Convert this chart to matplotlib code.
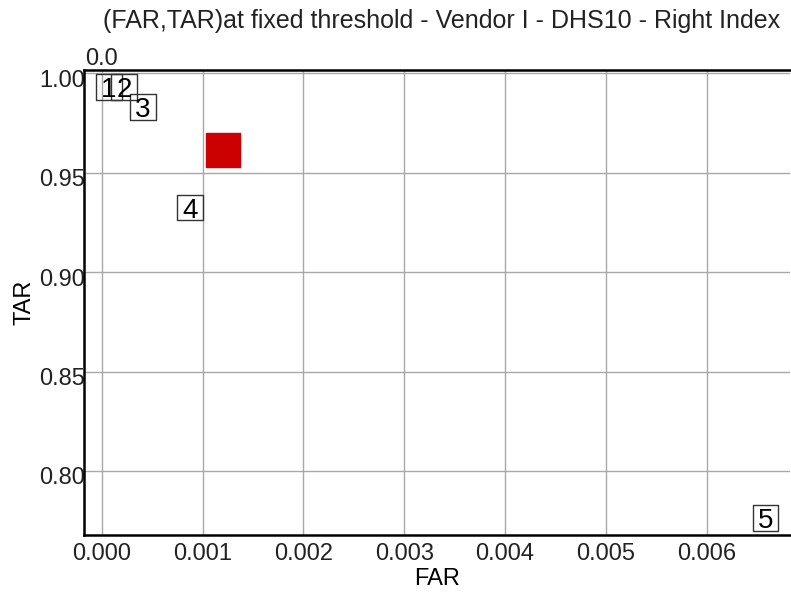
import matplotlib
matplotlib.use("Agg")
import matplotlib.pyplot as plt
import matplotlib.transforms as mtransforms

plt.rcParams['font.family'] = ['Liberation Sans', 'DejaVu Sans']

# point labels and their (FAR, TAR) positions
labels = ["1", "2", "3", "4", "5"]
far_values = [0.000072, 0.00022, 0.00041, 0.000876, 0.006585]
tar_values = [0.9931, 0.9931, 0.983, 0.9325, 0.7763]

# fixed threshold operating point (red square)
fixed_far = 0.0012
fixed_tar = 0.9614

x_ticks = [0.000, 0.001, 0.002, 0.003, 0.004, 0.005, 0.006]
y_ticks = [0.80, 0.85, 0.90, 0.95, 1.00]

fig = plt.figure(figsize=(7.91, 5.95), dpi=100)
ax = fig.add_axes([84 / 791, 60 / 595, 706 / 791, 465 / 595])

ax.set_xlim(-0.000176, 0.006828)
ax.set_ylim(0.7678, 1.00166)

ax.set_xticks(x_ticks)
ax.set_xticklabels(["%.3f" % v for v in x_ticks])
ax.set_yticks(y_ticks)
ax.set_yticklabels(["%.2f" % v for v in y_ticks])
ax.tick_params(length=0, labelsize=17, pad=6, colors="#222222")
ax.tick_params(axis="y", pad=-1)
# y tick labels sit a little below their grid lines
shift = mtransforms.ScaledTranslation(0, -5 / 100, fig.dpi_scale_trans)
for lbl in ax.get_yticklabels():
    lbl.set_transform(lbl.get_transform() + shift)

ax.grid(True, color="#a8a8a8", linewidth=1)
ax.set_axisbelow(True)

for side in ["left", "top", "bottom"]:
    ax.spines[side].set_linewidth(1.8)
    ax.spines[side].set_color("black")
ax.spines["right"].set_visible(False)

ax.scatter([fixed_far], [fixed_tar], marker="s", s=24.5 ** 2, color="#cc0000", zorder=3)

# boxed labels: an empty square marker plus the digit
ax.scatter(far_values, tar_values, marker="s", s=18.5 ** 2, facecolor="none",
           edgecolor="#333333", linewidth=1, zorder=4)
for lab, fx, ty in zip(labels, far_values, tar_values):
    ax.text(fx, ty, lab, fontsize=20, ha="center", va="center_baseline", zorder=5)

ax.text(0.0, 1.0, "0.0", transform=ax.get_xaxis_transform(), fontsize=17,
        ha="center", va="bottom", color="#222222")

ax.set_xlabel("FAR", fontsize=17, labelpad=2)
ax.set_ylabel("TAR", fontsize=17, labelpad=3)
fig.text(0.986, 0.985, "(FAR,TAR)at fixed threshold - Vendor I - DHS10 - Right Index",
         fontsize=18, ha="right", va="top", color="#222222")

fig.savefig("out.png", dpi=100)
